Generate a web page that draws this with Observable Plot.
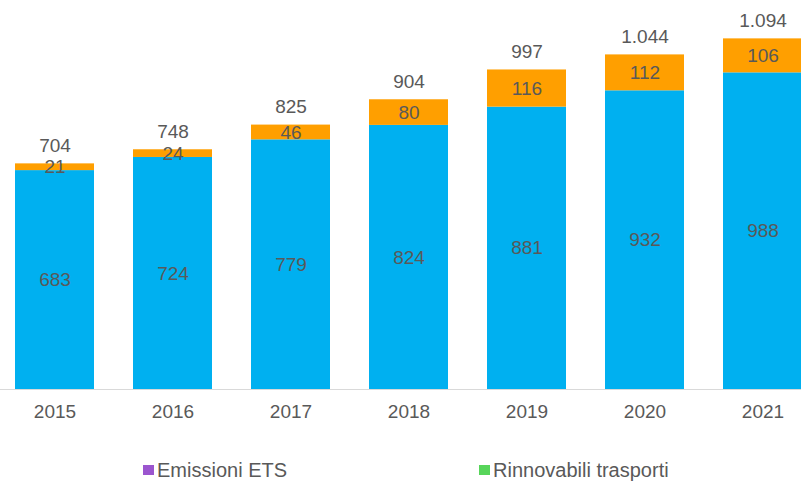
<!DOCTYPE html>
<html>
<head>
<meta charset="utf-8">
<script src="https://cdn.jsdelivr.net/npm/d3@7"></script>
<script src="https://cdn.jsdelivr.net/npm/@observablehq/plot@0.6"></script>
<style>
  html, body { margin: 0; padding: 0; background: #fff; }
  body { width: 801px; height: 481px; position: relative; overflow: hidden; font-family: "Liberation Sans", Arial, sans-serif; }
  #chart { position: absolute; left: 0; top: 0; }
  .legend { position: absolute; top: 459px; font-size: 20px; line-height: 22px; color: #595959; display: flex; align-items: center; white-space: nowrap; }
  .legend .sw { width: 11px; height: 10px; margin-right: 3px; display: inline-block; }
</style>
</head>
<body>
<div id="chart"></div>
<div class="legend" style="left:143px"><span class="sw" style="background:#9B55CF"></span>Emissioni ETS</div>
<div class="legend" style="left:479px"><span class="sw" style="background:#57D55A"></span>Rinnovabili trasporti</div>
<script>
const years = ["2015", "2016", "2017", "2018", "2019", "2020", "2021"];
const baseValues = [683, 724, 779, 824, 881, 932, 988];
const topValues = [21, 24, 46, 80, 116, 112, 106];
const totals = [704, 748, 825, 904, 997, 1044, 1094];

const rows = [
  ...years.map((y, i) => ({year: y, series: "base", value: baseValues[i]})),
  ...years.map((y, i) => ({year: y, series: "top", value: topValues[i]}))
];
const totalRows = years.map((y, i) => ({year: y, total: totals[i]}));
const fmt = d3.formatLocale({decimal: ",", thousands: ".", grouping: [3], currency: ["", "€"]}).format(",d");

const chart = Plot.plot({
  width: 801,
  height: 440,
  marginLeft: 0,
  marginRight: 0,
  marginTop: 4.4,
  marginBottom: 51,
  style: {fontFamily: "Liberation Sans, Arial, sans-serif", fontSize: "19px", color: "#595959", background: "#fff"},
  x: {domain: years, range: [-5.65, 822.5], paddingInner: 0.33, paddingOuter: 0.165, label: null},
  y: {domain: [0, 1200], axis: null},
  color: {domain: ["base", "top"], range: ["#00B0F0", "#FF9F00"]},
  marks: [
    Plot.barY(rows, {x: "year", y: "value", fill: "series", order: null}),
    Plot.ruleY([0], {stroke: "#D9D9D9", strokeWidth: 1}),
    Plot.text(rows, Plot.stackY({x: "year", y: "value", z: "series", order: null, text: d => fmt(d.value), fill: "#595959", fontSize: 19})),
    Plot.text(totalRows, {x: "year", y: "total", text: d => fmt(d.total), dy: -18, fill: "#595959", fontSize: 19}),
    Plot.axisX({tickSize: 0, tickPadding: 15, fontSize: 19, fill: "#595959", label: null})
  ]
});
document.getElementById("chart").appendChild(chart);
</script>
</body>
</html>
